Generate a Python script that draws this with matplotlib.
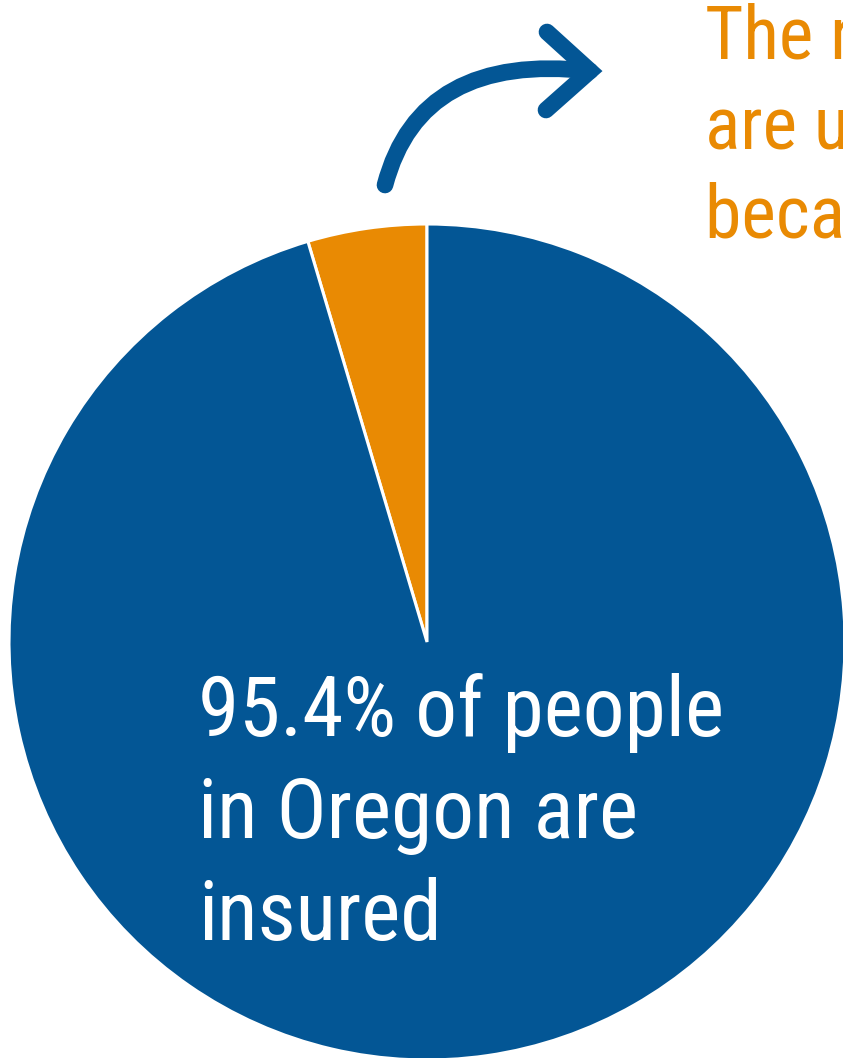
import matplotlib.pyplot as plt
from matplotlib.path import Path
from matplotlib.patches import PathPatch

# share of people in Oregon
labels = ['Uninsured', 'Insured']
shares = [4.6, 95.4]
colors = ['#E98A03', '#035695']

W, H = 843, 1058
blue = '#035695'
orange = '#E98A03'
fonts = ['Roboto Condensed', 'Liberation Sans', 'DejaVu Sans']

fig = plt.figure(figsize=(W / 100, H / 100), dpi=100)
ax = fig.add_axes([0, 0, 1, 1])

ax.pie(shares, colors=colors, startangle=90, counterclock=True,
       center=(427, H - 642), radius=418,
       wedgeprops=dict(edgecolor='white', linewidth=2.2))

# curved arrow pointing to the note
verts = [(385, H - 185), (420, H - 52), (590, H - 71)]
curve = Path(verts, [Path.MOVETO, Path.CURVE3, Path.CURVE3])
ax.add_patch(PathPatch(curve, facecolor='none', edgecolor=blue, lw=12,
                       capstyle='round'))
ax.plot([547, 590, 546], [H - 32, H - 71, H - 110], color=blue, lw=12,
        solid_capstyle='round', solid_joinstyle='miter')

# va='baseline' puts the last line's baseline at y
ax.text(198, H - 940, '95.4% of people\nin Oregon are\ninsured', color='white',
        fontsize=60, family=fonts, ha='left', va='baseline', linespacing=1.35)
ax.text(705, H - 237, 'The remaining 4.6%\nare uninsured\nbecause of cost',
        color=orange, fontsize=53, family=fonts, ha='left', va='baseline',
        linespacing=1.32)

ax.set_xlim(0, W)
ax.set_ylim(0, H)
ax.set_aspect('auto')
ax.axis('off')

fig.savefig('out.png', dpi=100)
